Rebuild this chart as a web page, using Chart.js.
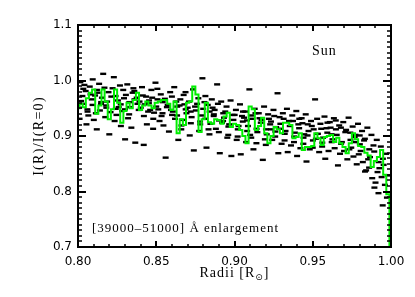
<!DOCTYPE html>
<html>
<head>
<meta charset="utf-8">
<script src="https://cdn.jsdelivr.net/npm/chart.js@4.4.1/dist/chart.umd.min.js"></script>
<style>
  html, body { margin: 0; padding: 0; background: #fff; }
  #wrap { width: 415px; height: 297px; }
</style>
</head>
<body>
<div id="wrap"><canvas id="chart" width="415" height="297"></canvas></div>
<script>
// smoothed profile (green), one bin every 0.002 R_sun from 0.800 to 1.000
const binStart = 0.80
const binWidth = 0.002
const greenValues = [
  0.950, 0.958, 0.952, 0.968, 0.978, 0.984, 0.940, 0.955, 0.984, 0.962,
  0.930, 0.948, 0.984, 0.960, 0.924, 0.945, 0.960, 0.950, 0.965, 0.978,
  0.947, 0.955, 0.962, 0.955, 0.950, 0.960, 0.962, 0.965, 0.965, 0.958,
  0.947, 0.962, 0.905, 0.930, 0.920, 0.960, 0.962, 0.989, 0.975, 0.907,
  0.930, 0.960, 0.925, 0.922, 0.930, 0.929, 0.922, 0.935, 0.942, 0.916,
  0.922, 0.920, 0.911, 0.900, 0.887, 0.953, 0.948, 0.911, 0.918, 0.933,
  0.905, 0.887, 0.900, 0.916, 0.912, 0.905, 0.924, 0.924, 0.920, 0.896,
  0.898, 0.905, 0.875, 0.880, 0.880, 0.882, 0.905, 0.896, 0.884, 0.898,
  0.900, 0.902, 0.889, 0.897, 0.887, 0.880, 0.869, 0.887, 0.905, 0.894,
  0.882, 0.880, 0.870, 0.865, 0.844, 0.855, 0.862, 0.875, 0.830, 0.795,
  0.700
]

// raw measurements (black dashes), one row per small radius band
const dashRadii = [
  0.8015, 0.8028, 0.8006, 0.8020, 0.8010, 0.8034,
  0.8049, 0.8033, 0.8061, 0.8041, 0.8054,
  0.8075, 0.8088, 0.8066, 0.8080, 0.8060, 0.8094,
  0.8109, 0.8093, 0.8121, 0.8101, 0.8114,
  0.8135, 0.8148, 0.8126, 0.8140, 0.8120,
  0.8169, 0.8153, 0.8181, 0.8161, 0.8174, 0.8147,
  0.8195, 0.8208, 0.8186, 0.8200, 0.8180,
  0.8229, 0.8213, 0.8241, 0.8221, 0.8234,
  0.8255, 0.8268, 0.8246, 0.8260, 0.8240, 0.8274,
  0.8289, 0.8273, 0.8301, 0.8281, 0.8294,
  0.8315, 0.8328, 0.8306, 0.8320, 0.8300,
  0.8349, 0.8333, 0.8361, 0.8341, 0.8354, 0.8327,
  0.8375, 0.8388, 0.8366, 0.8380, 0.8360,
  0.8409, 0.8393, 0.8421, 0.8401, 0.8414,
  0.8435, 0.8448, 0.8426, 0.8440, 0.8420, 0.8454,
  0.8469, 0.8453, 0.8481, 0.8461, 0.8474,
  0.8495, 0.8508, 0.8486, 0.8500, 0.8480,
  0.8529, 0.8513, 0.8541, 0.8521, 0.8534, 0.8507,
  0.8555, 0.8568, 0.8546, 0.8560, 0.8540,
  0.8589, 0.8573, 0.8601, 0.8581, 0.8594,
  0.8615, 0.8628, 0.8606, 0.8620, 0.8600, 0.8634,
  0.8649, 0.8633, 0.8661, 0.8641, 0.8654,
  0.8675, 0.8688, 0.8666, 0.8680, 0.8660,
  0.8709, 0.8693, 0.8721, 0.8701, 0.8714, 0.8687,
  0.8735, 0.8748, 0.8726, 0.8740, 0.8720,
  0.8769, 0.8753, 0.8781, 0.8761, 0.8774,
  0.8795, 0.8808, 0.8786, 0.8800, 0.8780, 0.8814,
  0.8829, 0.8813, 0.8841, 0.8821, 0.8834,
  0.8855, 0.8868, 0.8846, 0.8860, 0.8840,
  0.8889, 0.8873, 0.8901, 0.8881, 0.8894, 0.8867,
  0.8915, 0.8928, 0.8906, 0.8920, 0.8900,
  0.8949, 0.8933, 0.8961, 0.8941, 0.8954, 0.8927,
  0.8975, 0.8988, 0.8966, 0.8980, 0.8960,
  0.9009, 0.8993, 0.9021, 0.9001, 0.9014,
  0.9035, 0.9048, 0.9026, 0.9040, 0.9020, 0.9054,
  0.9069, 0.9053, 0.9081, 0.9061, 0.9074,
  0.9095, 0.9108, 0.9086, 0.9100, 0.9080,
  0.9129, 0.9113, 0.9141, 0.9121, 0.9134, 0.9107,
  0.9155, 0.9168, 0.9146, 0.9160, 0.9140,
  0.9189, 0.9173, 0.9201, 0.9181, 0.9194,
  0.9215, 0.9228, 0.9206, 0.9220, 0.9200, 0.9234,
  0.9249, 0.9233, 0.9261, 0.9241, 0.9254,
  0.9275, 0.9288, 0.9266, 0.9280, 0.9260,
  0.9309, 0.9293, 0.9321, 0.9301, 0.9314, 0.9287,
  0.9335, 0.9348, 0.9326, 0.9340, 0.9320,
  0.9369, 0.9353, 0.9381, 0.9361, 0.9374,
  0.9395, 0.9408, 0.9386, 0.9400, 0.9380, 0.9414,
  0.9429, 0.9413, 0.9441, 0.9421, 0.9434,
  0.9455, 0.9468, 0.9446, 0.9460, 0.9440,
  0.9489, 0.9473, 0.9501, 0.9481, 0.9494, 0.9467,
  0.9515, 0.9528, 0.9506, 0.9520, 0.9500,
  0.9549, 0.9533, 0.9561, 0.9541, 0.9554,
  0.9575, 0.9588, 0.9566, 0.9580, 0.9560, 0.9594,
  0.9609, 0.9593, 0.9621, 0.9601, 0.9614,
  0.9635, 0.9648, 0.9626, 0.9640, 0.9620,
  0.9669, 0.9653, 0.9681, 0.9661, 0.9674, 0.9647,
  0.9695, 0.9708, 0.9686, 0.9700, 0.9680,
  0.9729, 0.9713, 0.9741, 0.9721, 0.9734,
  0.9755, 0.9768, 0.9746, 0.9760, 0.9740, 0.9774,
  0.9789, 0.9773, 0.9801, 0.9781, 0.9794,
  0.9815, 0.9828, 0.9806, 0.9820, 0.9800, 0.9834,
  0.9849, 0.9833, 0.9861, 0.9841, 0.9854,
  0.9875, 0.9888, 0.9866, 0.9880, 0.9860, 0.9894,
  0.9909, 0.9893, 0.9921, 0.9901, 0.9914,
  0.9935, 0.9948, 0.9926, 0.9940, 0.9920,
  0.9969, 0.9953, 0.9981, 0.9961, 0.9974, 0.9947
]
const dashValues = [
  0.997, 0.972, 0.951, 0.963, 0.931, 0.985,
  0.981, 0.958, 0.944, 0.992, 0.921,
  0.989, 0.966, 0.937, 0.975, 0.948, 1.002,
  0.973, 0.956, 0.983, 0.929, 0.941,
  0.994, 0.961, 0.978, 0.946, 0.912,
  0.987, 0.969, 0.951, 1.012, 0.934, 0.958,
  0.979, 0.943, 0.962, 0.903, 0.955,
  1.006, 0.971, 0.949, 0.986, 0.927,
  0.964, 0.991, 0.938, 0.952, 0.972, 0.918,
  0.983, 0.957, 0.894, 0.945, 0.968,
  0.993, 0.961, 0.974, 0.932, 0.948,
  0.978, 0.952, 0.966, 0.915, 0.986, 0.939,
  0.969, 0.947, 0.888, 0.958, 0.981,
  0.988, 0.962, 0.936, 0.951, 0.973,
  0.971, 0.944, 0.957, 0.921, 0.884, 0.964,
  0.983, 0.959, 0.931, 0.947, 0.969,
  0.996, 0.966, 0.942, 0.953, 0.913,
  0.975, 0.948, 0.961, 0.927, 0.936, 0.985,
  0.967, 0.952, 0.919, 0.861, 0.941,
  0.979, 0.956, 0.938, 0.908, 0.947,
  0.988, 0.962, 0.944, 0.931, 0.971, 0.953,
  0.955, 0.937, 0.919, 0.893, 0.966,
  0.974, 0.948, 0.929, 0.957, 0.912,
  0.962, 0.941, 0.923, 0.951, 0.901, 0.979,
  0.984, 0.953, 0.934, 0.874, 0.944,
  0.968, 0.946, 0.921, 0.958, 0.909,
  1.004, 0.961, 0.937, 0.949, 0.926, 0.972,
  0.956, 0.931, 0.944, 0.879, 0.912,
  0.966, 0.939, 0.922, 0.951, 0.903,
  0.993, 0.947, 0.928, 0.913, 0.958, 0.936,
  0.962, 0.941, 0.869, 0.924, 0.907,
  0.953, 0.933, 0.917, 0.944, 0.897, 0.927,
  0.964, 0.938, 0.921, 0.864, 0.902,
  0.947, 0.929, 0.912, 0.938, 0.893,
  0.957, 0.936, 0.918, 0.867, 0.899, 0.944,
  0.944, 0.926, 0.909, 0.933, 0.889,
  0.984, 0.937, 0.918, 0.902, 0.928,
  0.949, 0.931, 0.913, 0.876, 0.941, 0.897,
  0.941, 0.924, 0.907, 0.932, 0.887,
  0.953, 0.929, 0.912, 0.857, 0.894,
  0.939, 0.921, 0.903, 0.931, 0.884, 0.912,
  0.947, 0.926, 0.908, 0.893, 0.936,
  0.977, 0.934, 0.916, 0.869, 0.899,
  0.941, 0.922, 0.904, 0.886, 0.931, 0.913,
  0.949, 0.927, 0.909, 0.871, 0.892,
  0.937, 0.918, 0.899, 0.883, 0.927,
  0.945, 0.921, 0.906, 0.864, 0.889, 0.931,
  0.932, 0.914, 0.897, 0.878, 0.923,
  0.939, 0.921, 0.903, 0.854, 0.886,
  0.927, 0.909, 0.892, 0.876, 0.918, 0.901,
  0.966, 0.931, 0.912, 0.895, 0.879,
  0.922, 0.904, 0.888, 0.871, 0.913,
  0.935, 0.914, 0.897, 0.859, 0.881, 0.924,
  0.925, 0.906, 0.889, 0.873, 0.915,
  0.932, 0.912, 0.894, 0.878, 0.903,
  0.919, 0.902, 0.886, 0.847, 0.868, 0.928,
  0.925, 0.907, 0.889, 0.873, 0.915,
  0.933, 0.911, 0.893, 0.858, 0.876,
  0.917, 0.898, 0.879, 0.863, 0.906, 0.889,
  0.922, 0.902, 0.885, 0.849, 0.867,
  0.909, 0.892, 0.873, 0.853, 0.901, 0.836,
  0.915, 0.895, 0.876, 0.838, 0.858,
  0.902, 0.883, 0.862, 0.824, 0.843, 0.807,
  0.893, 0.872, 0.853, 0.816, 0.835,
  0.881, 0.859, 0.842, 0.826, 0.797,
  0.868, 0.848, 0.829, 0.812, 0.789, 0.775
]

const xMin = 0.80, xMax = 1.00, xMajor = 0.05, xMinor = 0.01
const yMin = 0.7, yMax = 1.1, yMajor = 0.1, yMinor = 0.01

const greenPoints = greenValues.map((v, i) => ({ x: +(binStart + i * binWidth).toFixed(3), y: v }))
const dashPoints = dashRadii.map((r, i) => ({ x: r, y: dashValues[i] }))

// IDL style frame: box with inward ticks on all four sides, plus the labels
const idlFrame = {
  id: 'idlFrame',
  afterDraw(chart) {
    const { ctx, chartArea: a, scales: { x, y } } = chart
    ctx.save()
    ctx.fillStyle = '#000'
    const nx = Math.round((xMax - xMin) / xMinor)
    for (let k = 0; k <= nx; k++) {
      const px = Math.round(x.getPixelForValue(xMin + k * xMinor))
      const major = k % 5 === 0
      const len = major ? 6 : 3
      const w = major ? 2 : 1.5
      ctx.fillRect(px - w / 2, a.bottom - len, w, len)
      ctx.fillRect(px - w / 2, a.top, w, len)
    }
    const ny = Math.round((yMax - yMin) / yMinor)
    for (let k = 0; k <= ny; k++) {
      const py = Math.round(y.getPixelForValue(yMin + k * yMinor))
      const major = k % 10 === 0
      const len = major ? 8 : 4
      const h = major ? 2 : 1.5
      ctx.fillRect(a.left, py - h / 2, len, h)
      ctx.fillRect(a.right - len, py - h / 2, len, h)
    }
    ctx.strokeStyle = '#000'
    ctx.lineWidth = 2
    ctx.strokeRect(a.left, a.top, a.right - a.left, a.bottom - a.top)

    ctx.textBaseline = 'alphabetic'
    ctx.letterSpacing = '1px'

    // x title with subscript sun symbol
    const head = 'Radii [R'
    ctx.font = '14px "Liberation Serif", serif'
    const wHead = ctx.measureText(head).width
    ctx.font = '9px "DejaVu Sans", sans-serif'
    const wSun = ctx.measureText('\u2299').width
    ctx.font = '14px "Liberation Serif", serif'
    const wTail = ctx.measureText(']').width
    let tx = (a.left + a.right) / 2 - (wHead + wSun + wTail) / 2
    const ty = 277
    ctx.fillText(head, tx, ty)
    tx += wHead
    ctx.font = '9px "DejaVu Sans", sans-serif'
    ctx.fillText('\u2299', tx, ty + 3)
    tx += wSun
    ctx.font = '14px "Liberation Serif", serif'
    ctx.fillText(']', tx, ty)

    // y title
    ctx.save()
    ctx.translate(43, (a.top + a.bottom) / 2)
    ctx.rotate(-Math.PI / 2)
    ctx.textAlign = 'center'
    ctx.letterSpacing = '1.3px'
    ctx.fillText('I(R)/I(R=0)', 0, 0)
    ctx.restore()

    ctx.font = '14px "Liberation Serif", serif'
    ctx.fillText('Sun', 312, 55)
    ctx.font = '13px "Liberation Serif", serif'
    ctx.fillText('[39000\u201351000] \u00c5 enlargement', 92, 232)
    ctx.restore()
  }
}

new Chart(document.getElementById('chart'), {
  type: 'scatter',
  data: {
    datasets: [
      {
        type: 'line',
        data: greenPoints,
        stepped: 'middle',
        borderColor: '#00ee00',
        borderWidth: 2,
        pointRadius: 0,
        fill: false,
        order: 0,
      },
      {
        type: 'scatter',
        data: dashPoints,
        pointStyle: 'line',
        pointRadius: 3,
        borderColor: '#000',
        borderWidth: 2.4,
        order: 1,
      },
    ]
  },
  options: {
    responsive: false,
    animation: false,
    events: [],
    layout: { padding: { top: 25, right: 24, left: 0, bottom: 0 } },
    plugins: { legend: { display: false }, tooltip: { enabled: false } },
    scales: {
      x: {
        type: 'linear',
        min: xMin,
        max: xMax,
        grid: { display: false, drawTicks: false },
        border: { display: false },
        afterFit: (scale) => { scale.height = 50 },
        afterBuildTicks: (scale) => {
          scale.ticks = [0, 1, 2, 3, 4].map(k => ({ value: +(xMin + k * xMajor).toFixed(2) }))
        },
        ticks: {
          padding: 8,
          color: '#000',
          font: { family: 'DejaVu Sans', size: 12 },
          callback: (v) => Number(v).toFixed(2),
          maxRotation: 0,
        },
      },
      y: {
        type: 'linear',
        min: yMin,
        max: yMax,
        grid: { display: false, drawTicks: false },
        border: { display: false },
        afterFit: (scale) => { scale.width = 78 },
        afterBuildTicks: (scale) => {
          scale.ticks = [0, 1, 2, 3, 4].map(k => ({ value: +(yMin + k * yMajor).toFixed(1) }))
        },
        ticks: {
          padding: 6,
          color: '#000',
          font: { family: 'DejaVu Sans', size: 12 },
          callback: (v) => Number(v).toFixed(1),
        },
      },
    },
  },
  plugins: [idlFrame],
})
</script>
</body>
</html>
